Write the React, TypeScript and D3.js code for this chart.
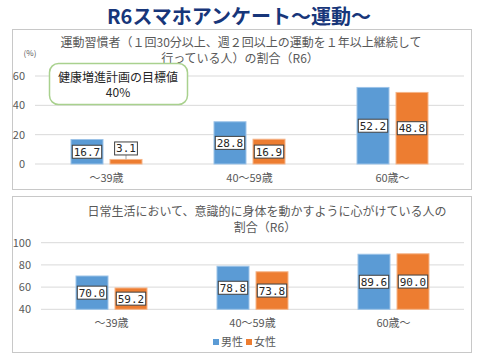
import React from 'react';
import * as d3 from 'd3';

const categories = ['～39歳', '40～59歳', '60歳～'];
const seriesNames = ['男性', '女性'];
const exerciseMale = [16.7, 28.8, 52.2];
const exerciseFemale = [3.1, 16.9, 48.8];
const activeMale = [70.0, 78.8, 89.6];
const activeFemale = [59.2, 73.8, 90.0];
const exerciseTicks = [0, 20, 40, 60];
const activeTicks = [40, 60, 80, 100];

const colors = ['#5b9bd5', '#ed7d31'];
const edgeColors = ['#9cc3e8', '#f5b488'];
const jp = '"Noto Sans CJK JP", "Noto Sans", sans-serif';
const mono = '"DejaVu Sans Mono", monospace';
const gray = '#595959';

interface PanelProps {
  x0: number;
  x1: number;
  y0: number;
  y1: number;
  domain: [number, number];
  ticks: number[];
  male: number[];
  female: number[];
}

const BarPanel: React.FC<PanelProps> = ({ x0, x1, y0, y1, domain, ticks, male, female }) => {
  const x = d3.scaleBand<string>().domain(categories).range([x0, x1]).padding(0);
  const bw = x.bandwidth();
  const inner = d3
    .scaleBand<string>()
    .domain(seriesNames)
    .range([(bw - 71) / 2, (bw + 71) / 2])
    .paddingInner(0.18);
  const y = d3.scaleLinear().domain(domain).range([y0, y1]);
  const series = [male, female];

  return (
    <g>
      {ticks.map((t) => (
        <g key={t}>
          <line x1={x0} x2={x1} y1={y(t)} y2={y(t)} stroke="#d9d9d9" strokeWidth={1} />
          <text x={x0 - 10} y={y(t)} dy="0.35em" textAnchor="end" fontSize={11} fill={gray} fontFamily={jp}>
            {t}
          </text>
        </g>
      ))}
      {categories.map((c, ci) => (
        <g key={c} transform={`translate(${x(c)},0)`}>
          {series.map((vals, si) => {
            const v = vals[ci];
            const bx = inner(seriesNames[si])!;
            const top = y(v);
            const h = y(domain[0]) - top;
            const txt = v.toFixed(1);
            const tw = txt.length * 6.6 + 3;
            const small = h < 16;
            const ly = small ? top - 11 : top + h / 2;
            const cx = bx + inner.bandwidth() / 2;
            return (
              <g key={si}>
                <rect
                  x={bx}
                  y={top}
                  width={inner.bandwidth()}
                  height={h}
                  fill={colors[si]}
                  stroke={edgeColors[si]}
                  strokeWidth={1}
                />
                {small && <line x1={cx} x2={cx} y1={ly + 6.5} y2={top} stroke="#a6a6a6" strokeWidth={1} />}
                <rect x={cx - tw / 2} y={ly - 6.5} width={tw} height={13} fill="#fff" stroke="#404040" strokeWidth={1} />
                <text x={cx} y={ly} dy="0.36em" textAnchor="middle" fontSize={11} fill="#262626" fontFamily={mono}>
                  {txt}
                </text>
              </g>
            );
          })}
          <text x={bw / 2} y={y(domain[0]) + 14} dy="0.35em" textAnchor="middle" fontSize={11} fill={gray} fontFamily={jp}>
            {c}
          </text>
        </g>
      ))}
    </g>
  );
};

const App: React.FC = () => {
  return (
    <svg width={480} height={360} style={{ position: 'absolute', left: 0, top: 0 }}>
      <rect width={480} height={360} fill="#fff" />
      <text x={239} y={17} dy="0.35em" textAnchor="middle" fontSize={20} fontWeight="bold" fill="#17367a" fontFamily={jp}>
        R6スマホアンケート～運動～
      </text>

      {/* panel 1 */}
      <rect x={12.5} y={29.5} width={459} height={160} fill="#fff" stroke="#c8c8c8" />
      <text x={241} y={42.5} dy="0.35em" textAnchor="middle" fontSize={12} fill={gray} fontFamily={jp}>
        運動習慣者（１回30分以上、週２回以上の運動を１年以上継続して
      </text>
      <text x={240} y={58.5} dy="0.35em" textAnchor="middle" fontSize={12} fill={gray} fontFamily={jp}>
        行っている人）の割合（R6）
      </text>
      <text x={30} y={53} dy="0.35em" textAnchor="middle" fontSize={8} fill={gray} fontFamily={jp}>
        (%)
      </text>
      <BarPanel
        x0={35}
        x1={464}
        y0={164}
        y1={76}
        domain={[0, 60]}
        ticks={exerciseTicks}
        male={exerciseMale}
        female={exerciseFemale}
      />
      <rect x={49.5} y={63.5} width={138} height={41} rx={9} fill="#fff" stroke="#a9d18e" strokeWidth={1.5} />
      <text x={118} y={77.5} dy="0.35em" textAnchor="middle" fontSize={12} fill="#262626" fontFamily={jp}>
        健康増進計画の目標値
      </text>
      <text x={118} y={93} dy="0.35em" textAnchor="middle" fontSize={12} fill="#262626" fontFamily={jp}>
        40%
      </text>

      {/* panel 2 */}
      <rect x={12.5} y={196.5} width={459} height={156} fill="#fff" stroke="#c8c8c8" />
      <text x={267} y={212} dy="0.35em" textAnchor="middle" fontSize={12} fill={gray} fontFamily={jp}>
        日常生活において、意識的に身体を動かすように心がけている人の
      </text>
      <text x={265} y={228} dy="0.35em" textAnchor="middle" fontSize={12} fill={gray} fontFamily={jp}>
        割合（R6）
      </text>
      <BarPanel
        x0={41}
        x1={464}
        y0={309.3}
        y1={242.7}
        domain={[40, 100]}
        ticks={activeTicks}
        male={activeMale}
        female={activeFemale}
      />
      {seriesNames.map((s, i) => (
        <g key={s} transform={`translate(${213 + i * 33},342)`}>
          <rect x={0} y={-3} width={6} height={6} fill={colors[i]} />
          <text x={8} y={0} dy="0.35em" fontSize={11} fill={gray} fontFamily={jp}>
            {s}
          </text>
        </g>
      ))}
    </svg>
  );
};

export default App;
